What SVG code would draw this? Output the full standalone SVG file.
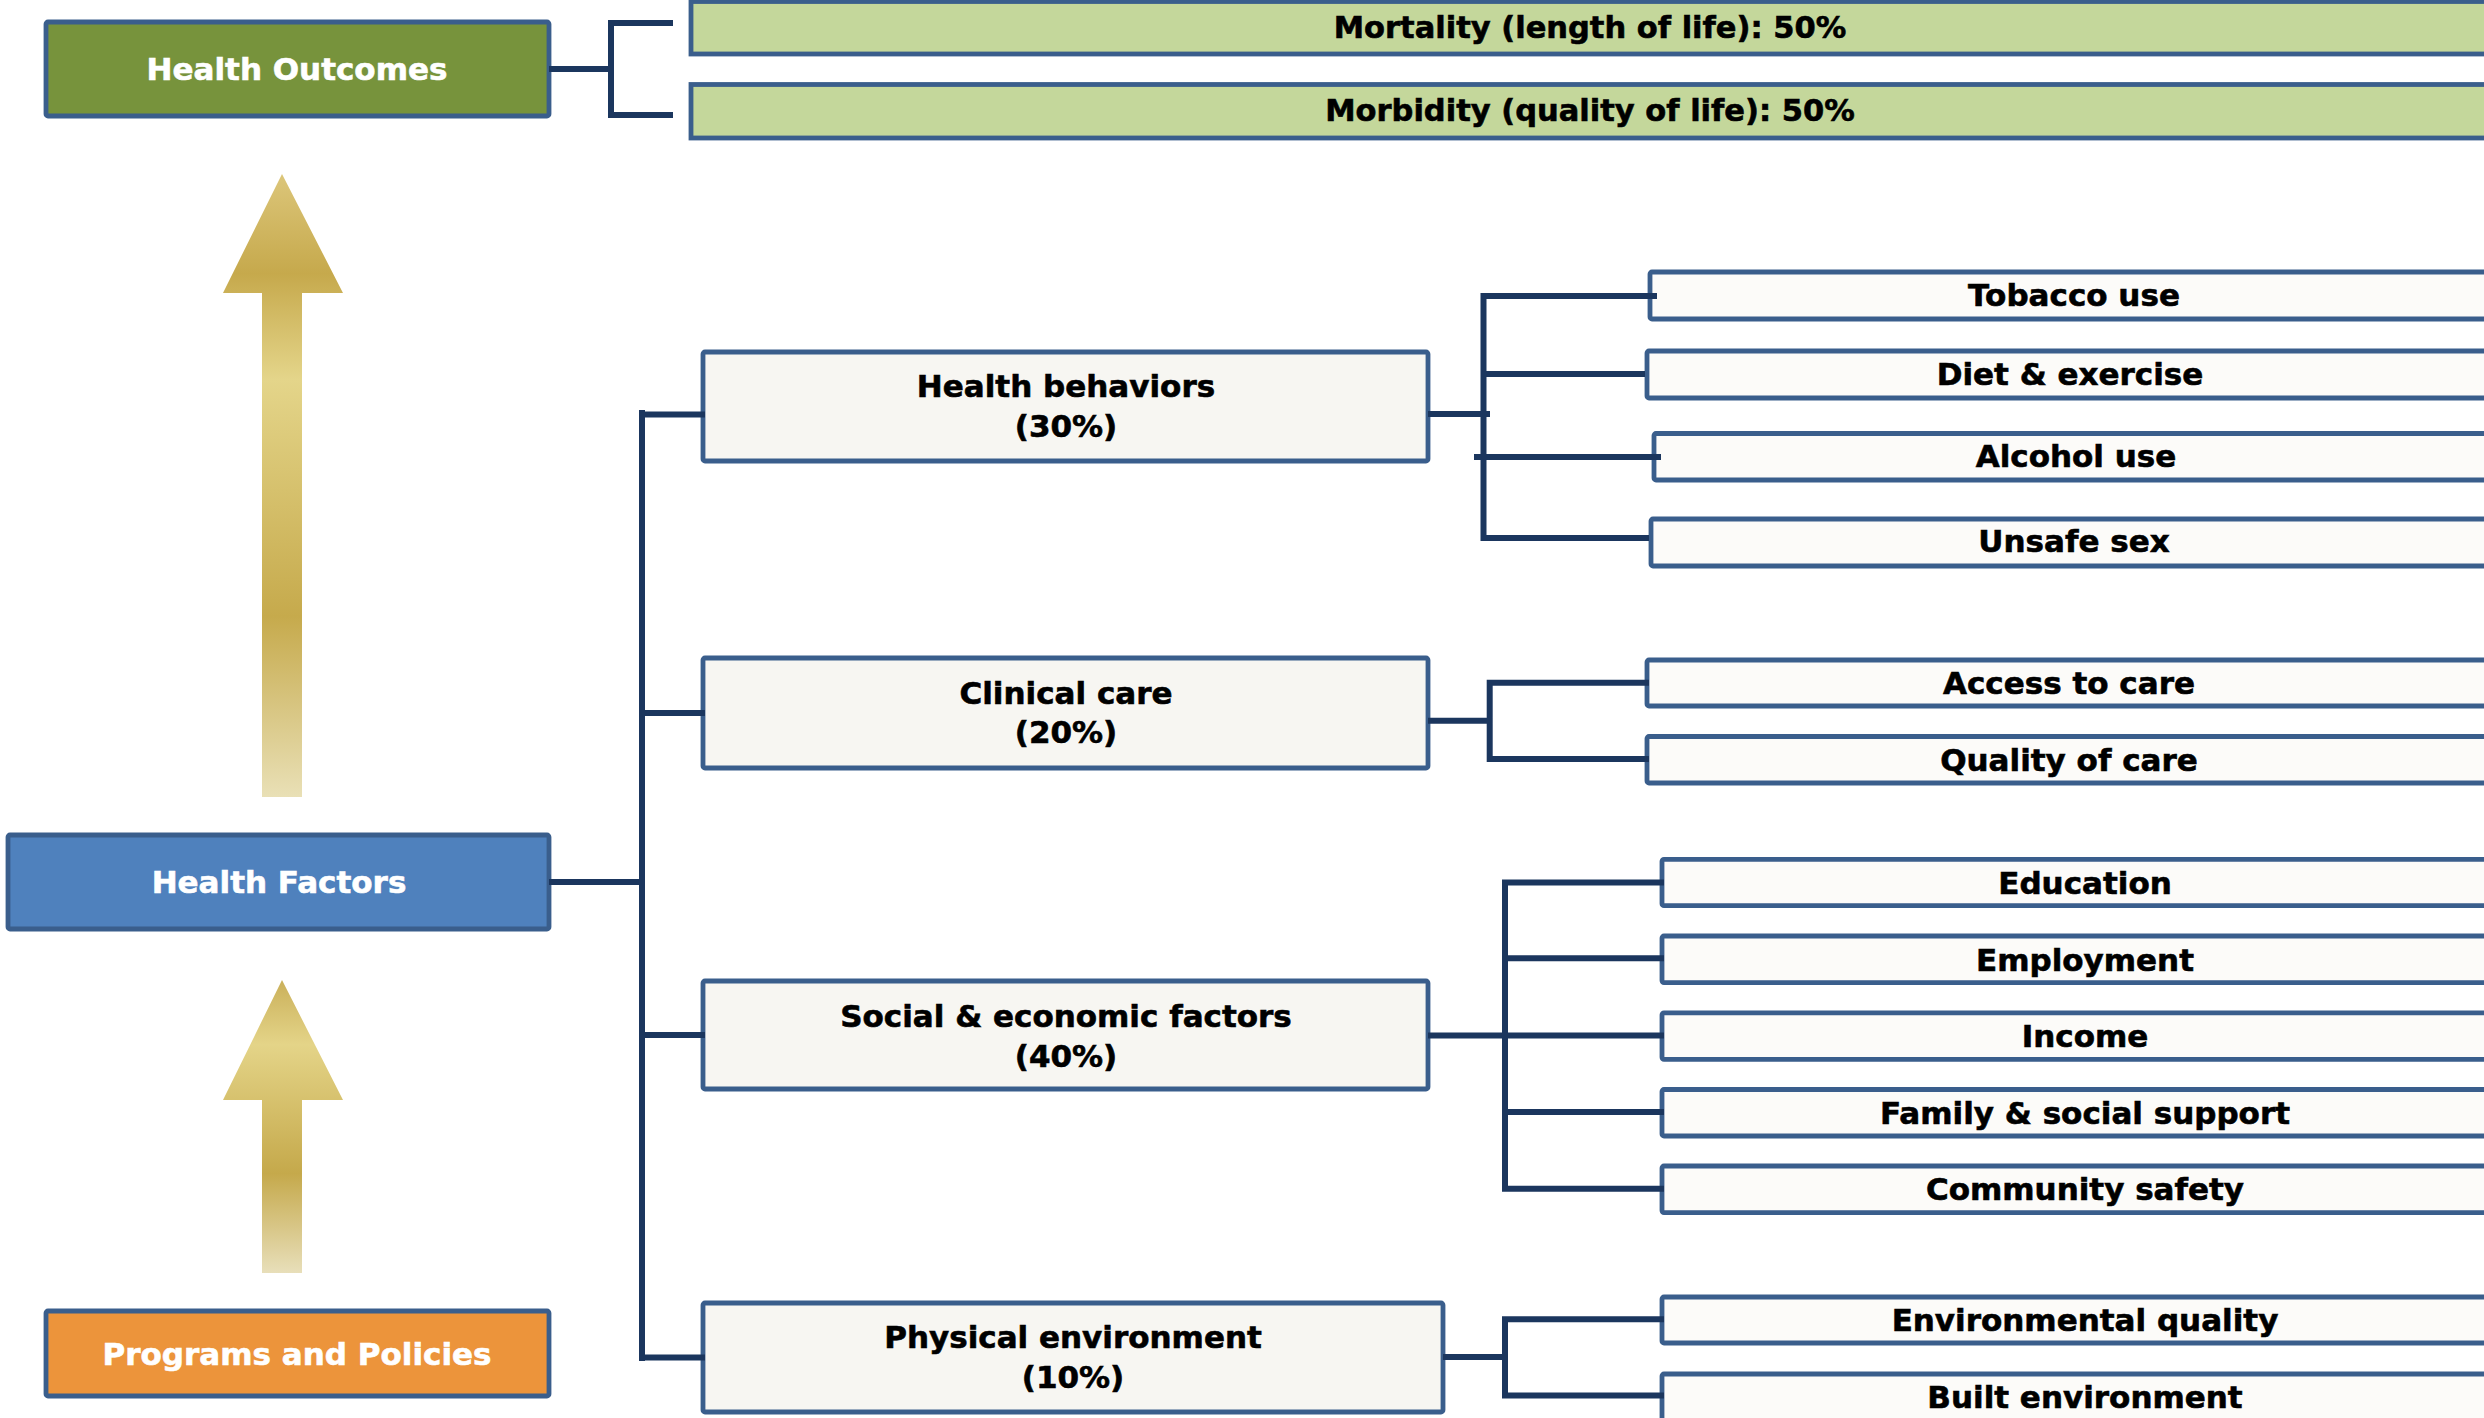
<svg xmlns="http://www.w3.org/2000/svg" width="2484" height="1418" viewBox="0 0 2484 1418">
<style>
text{font-family:"DejaVu Sans","Verdana",sans-serif;font-weight:bold;font-size:31px;text-anchor:middle;fill:#000;stroke:#000;stroke-width:0.6}
.w{fill:#fff;stroke:#fff}
.o{font-size:30.5px}
.box{stroke:#3A5E8C;stroke-width:4.8}
.mid{fill:#F7F6F2}
.leaf{fill:#FCFBF9}
.out{fill:#C4D79B}
.con path{stroke:#1B365E;stroke-width:6;fill:none}
</style>
<defs>
<linearGradient id="g1" gradientUnits="userSpaceOnUse" x1="0" y1="174" x2="0" y2="797">
<stop offset="0" stop-color="#DCC67A"/>
<stop offset="0.16" stop-color="#C6A94C"/>
<stop offset="0.33" stop-color="#E4D58A"/>
<stop offset="0.71" stop-color="#C6AA4C"/>
<stop offset="1" stop-color="#E9E0B6"/>
</linearGradient>
<linearGradient id="g2" gradientUnits="userSpaceOnUse" x1="0" y1="980" x2="0" y2="1273">
<stop offset="0" stop-color="#CAB05A"/>
<stop offset="0.22" stop-color="#E4D488"/>
<stop offset="0.66" stop-color="#C5A94B"/>
<stop offset="1" stop-color="#E8DFBA"/>
</linearGradient>
</defs>
<rect width="2484" height="1418" fill="#fff"/>

<g id="arrow-up-1"><polygon points="282,174 343,293 302,293 302,797 262,797 262,293 223,293" fill="url(#g1)"/></g>
<g id="arrow-up-2"><polygon points="282,980 343,1100 302,1100 302,1273 262,1273 262,1100 223,1100" fill="url(#g2)"/></g>

<g id="health-outcomes"><rect class="box" x="46" y="22" width="503" height="94" rx="2" fill="#77933C"/><text class="w" x="297" y="80">Health Outcomes</text></g>
<g id="health-factors"><rect class="box" x="8" y="835" width="541" height="94" rx="2" fill="#4F81BD"/><text class="w" x="279" y="893">Health Factors</text></g>
<g id="programs-policies"><rect class="box" x="46" y="1311" width="503" height="85" rx="2" fill="#EC943B"/><text class="w" x="297" y="1365">Programs and Policies</text></g>

<g id="mortality"><rect class="box out" x="691" y="1.5" width="1810" height="52.5"/><text class="o" x="1590" y="38">Mortality (length of life): 50%</text></g>
<g id="morbidity"><rect class="box out" x="691" y="84.5" width="1810" height="53.5"/><text class="o" x="1590" y="121">Morbidity (quality of life): 50%</text></g>

<g id="health-behaviors"><rect class="box mid" x="703" y="352" width="725" height="109" rx="2"/><text x="1066" y="397">Health behaviors</text><text x="1066" y="437">(30%)</text></g>
<g id="clinical-care"><rect class="box mid" x="703" y="658" width="725" height="110" rx="2"/><text x="1066" y="704">Clinical care</text><text x="1066" y="743">(20%)</text></g>
<g id="social-economic"><rect class="box mid" x="703" y="981" width="725" height="108" rx="2"/><text x="1066" y="1027">Social &amp; economic factors</text><text x="1066" y="1067">(40%)</text></g>
<g id="physical-environment"><rect class="box mid" x="703" y="1303" width="740" height="109" rx="2"/><text x="1073" y="1348">Physical environment</text><text x="1073" y="1388">(10%)</text></g>

<g id="tobacco"><rect class="box leaf" x="1650" y="272" width="850" height="47" rx="2"/><text x="2074" y="306">Tobacco use</text></g>
<g id="diet"><rect class="box leaf" x="1647" y="351" width="853" height="47" rx="2"/><text x="2070" y="385">Diet &amp; exercise</text></g>
<g id="alcohol"><rect class="box leaf" x="1654" y="433.5" width="846" height="46.5" rx="2"/><text x="2076" y="467">Alcohol use</text></g>
<g id="unsafe-sex"><rect class="box leaf" x="1651" y="519" width="849" height="47" rx="2"/><text x="2074" y="552">Unsafe sex</text></g>
<g id="access"><rect class="box leaf" x="1647" y="660" width="853" height="46" rx="2"/><text x="2069" y="694">Access to care</text></g>
<g id="quality"><rect class="box leaf" x="1647" y="736.5" width="853" height="46.5" rx="2"/><text x="2069" y="771">Quality of care</text></g>
<g id="education"><rect class="box leaf" x="1662" y="859.3" width="840" height="46.4" rx="2"/><text x="2085" y="894">Education</text></g>
<g id="employment"><rect class="box leaf" x="1662" y="936" width="840" height="46.6" rx="2"/><text x="2085" y="971">Employment</text></g>
<g id="income"><rect class="box leaf" x="1662" y="1012.8" width="840" height="46.5" rx="2"/><text x="2085" y="1047">Income</text></g>
<g id="family"><rect class="box leaf" x="1662" y="1089.5" width="840" height="46.5" rx="2"/><text x="2085" y="1124">Family &amp; social support</text></g>
<g id="community"><rect class="box leaf" x="1662" y="1166" width="840" height="46.6" rx="2"/><text x="2085" y="1200">Community safety</text></g>
<g id="env-quality"><rect class="box leaf" x="1662" y="1297" width="840" height="46" rx="2"/><text x="2085" y="1331">Environmental quality</text></g>
<g id="built-env"><rect class="box leaf" x="1662" y="1374" width="840" height="50" rx="2"/><text x="2085" y="1408">Built environment</text></g>

<g id="connectors" class="con">
<path d="M549,69 H611 M611,20 V118 M608,23 H673 M608,115 H673"/>
<path d="M549,882 H642 M642,410 V1361 M639,414.5 H705 M642,713 H705 M642,1035 H705 M639,1357.5 H705"/>
<path d="M1428,414 H1490 M1483.5,293 V541 M1480.5,296 H1657 M1483.5,374 H1645 M1474,457 H1661 M1483.5,538 H1649"/>
<path d="M1428,720.7 H1490 M1489.7,679.7 V762 M1486.7,682.7 H1649 M1486.7,759 H1649"/>
<path d="M1428,1035.4 H1505 M1505,879.4 V1191.7 M1502,882.4 H1664 M1505,958.3 H1664 M1505,1035.4 H1664 M1505,1112 H1664 M1502,1188.7 H1664"/>
<path d="M1443,1357 H1505 M1505,1316.2 V1398.5 M1502,1319.2 H1664 M1502,1395.5 H1664"/>
</g>
</svg>
